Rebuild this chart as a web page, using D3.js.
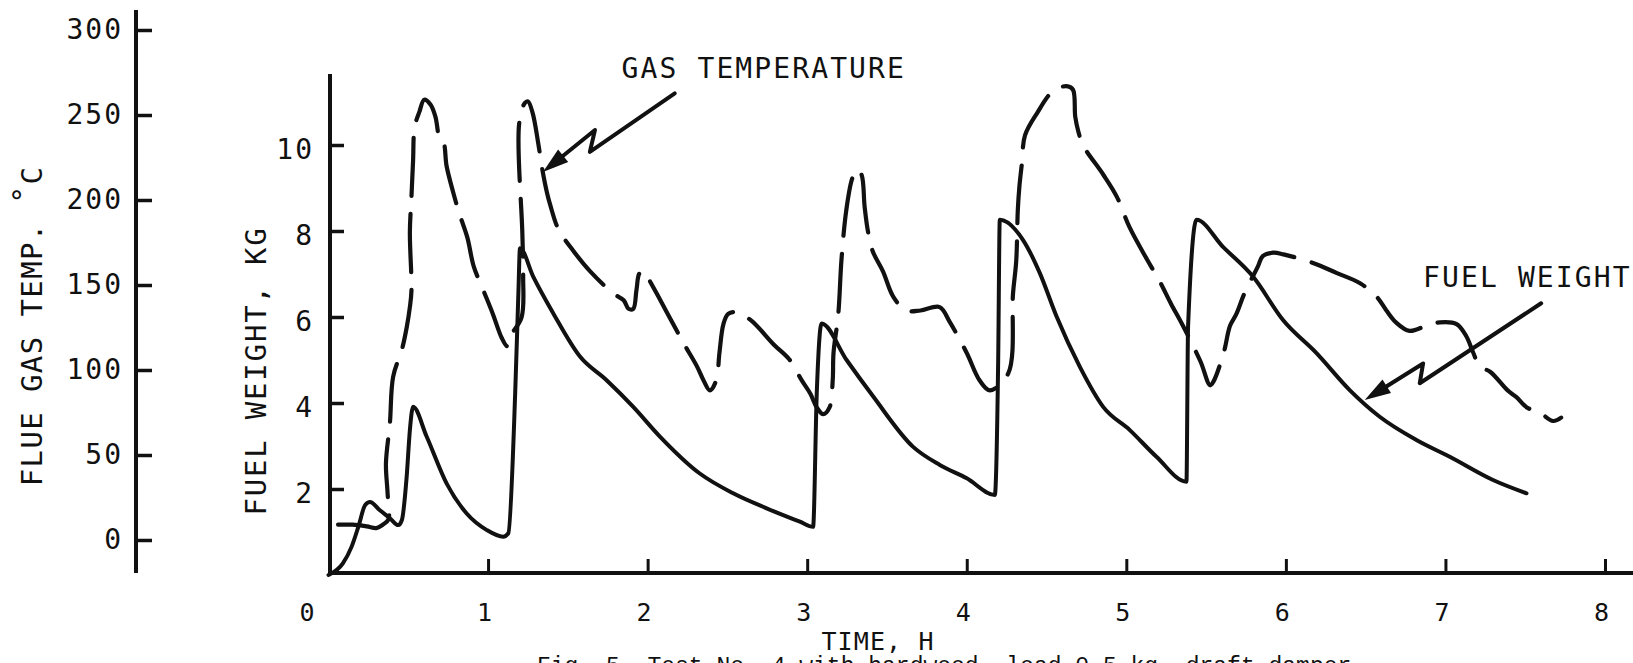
<!DOCTYPE html>
<html lang="en">
<head>
<meta charset="UTF-8">
<title>Fuel weight and flue gas temperature</title>
<script src="https://cdn.jsdelivr.net/npm/d3@7"></script>
<style>
  body { margin: 0; background: #fff; }
  svg { display: block; }
  text { font-family: "DejaVu Sans Mono", monospace; fill: #111; }
  .caption { font-family: "Liberation Mono", monospace; }
</style>
</head>
<body>
<svg width="1633" height="663"></svg>
<script>
// fuel weight on the grate, kg, against time in hours
const fuelTime = [0, 0.09, 0.145, 0.187, 0.23, 0.26, 0.32, 0.385, 0.437, 0.46, 0.49, 0.51, 0.53, 0.615, 0.74, 0.866,
  0.99, 1.095, 1.127, 1.17, 1.19, 1.2, 1.283, 1.408, 1.576, 1.743, 1.91, 2.077, 2.327, 2.536, 2.746, 2.954,
  3.037, 3.06, 3.09, 3.247, 3.414, 3.664, 3.831, 4.0, 4.176, 4.197, 4.207, 4.353, 4.458, 4.563, 4.709, 4.855,
  5.022, 5.189, 5.377, 5.387, 5.44, 5.606, 5.794, 5.982, 6.192, 6.4, 6.588, 6.818, 7.027, 7.298, 7.508];
const fuelWeight = [0, 0.27, 0.66, 1.12, 1.63, 1.7, 1.51, 1.32, 1.16, 1.28, 2.29, 3.37, 3.91, 3.22, 2.13, 1.43,
  1.05, 0.89, 0.97, 4.23, 6.55, 7.6, 6.94, 6.09, 5.08, 4.53, 3.91, 3.22, 2.36, 1.9, 1.55, 1.24,
  1.12, 4.23, 5.85, 5.0, 4.15, 2.98, 2.56, 2.25, 1.86, 5.0, 8.26, 7.79, 7.02, 6.01, 4.84, 3.91,
  3.37, 2.75, 2.17, 5.77, 8.26, 7.63, 6.94, 5.93, 5.16, 4.3, 3.68, 3.14, 2.75, 2.21, 1.9];

// flue gas temperature, deg C, against time in hours
const gasTime = [0.06, 0.15, 0.24, 0.3, 0.34, 0.375, 0.37, 0.36, 0.385, 0.405, 0.46, 0.49, 0.51, 0.52, 0.51, 0.52,
  0.53, 0.54, 0.57, 0.6, 0.64, 0.67, 0.7, 0.72, 0.74, 0.78, 0.82, 0.87, 0.91, 0.97, 1.03, 1.085,
  1.12, 1.14, 1.21, 1.22, 1.215, 1.195, 1.23, 1.25, 1.28, 1.315, 1.34, 1.37, 1.39, 1.44, 1.535, 1.64,
  1.785, 1.85, 1.88, 1.91, 1.93, 1.95, 1.98, 2.01, 2.08, 2.16, 2.23, 2.31, 2.35, 2.39, 2.43, 2.45,
  2.475, 2.505, 2.56, 2.65, 2.79, 2.89, 2.965, 3.02, 3.06, 3.1, 3.14, 3.16, 3.165, 3.195, 3.215, 3.245,
  3.28, 3.31, 3.34, 3.36, 3.38, 3.41, 3.475, 3.54, 3.62, 3.71, 3.83, 3.895, 4.0, 4.08, 4.145, 4.26,
  4.29, 4.31, 4.32, 4.33, 4.345, 4.365, 4.44, 4.54, 4.625, 4.665, 4.68, 4.7, 4.73, 4.855, 4.94, 5.02,
  5.13, 5.21, 5.28, 5.355, 5.465, 5.525, 5.545, 5.61, 5.65, 5.69, 5.74, 5.825, 5.855, 5.92, 5.985, 6.17,
  6.32, 6.465, 6.57, 6.63, 6.69, 6.775, 6.88, 6.965, 7.07, 7.13, 7.175, 7.215, 7.28, 7.39, 7.445, 7.51,
  7.59, 7.675, 7.725];
const gasTemp = [9, 9, 8, 7, 9, 12, 28, 45, 69, 96, 112, 125, 137, 147, 181, 202,
  223, 243, 252, 259, 256, 249, 235, 234, 220, 205, 192, 178, 161, 147, 133, 119,
  114, 120, 131, 155, 180, 245, 257, 258, 251, 233, 218, 204, 197, 183, 170, 158,
  145, 141, 136, 136, 147, 157, 158, 153, 141, 127, 115, 102, 94, 88, 94, 110,
  127, 133, 134, 129, 115, 106, 94, 86, 78, 74, 78, 94, 110, 133, 165, 194,
  212, 218, 215, 196, 182, 170, 158, 143, 135, 135, 137, 128, 110, 94, 88, 98,
  145, 164, 194, 208, 221, 238, 251, 264, 267, 265, 249, 240, 232, 215, 202, 184,
  165, 152, 139, 126, 105, 91, 93, 110, 126, 133, 145, 161, 167, 169, 168, 163,
  157, 151, 143, 135, 128, 123, 126, 128, 127, 120, 110, 102, 99, 88, 84, 78,
  75, 70, 72];

const tempTicks = [0, 50, 100, 150, 200, 250, 300];
const fuelTicks = [2, 4, 6, 8, 10];
const timeTicks = [0, 1, 2, 3, 4, 5, 6, 7, 8];

// hand drawn pointer arrows, in (hours, kg) units
const gasArrow = [[2.17, 11.2], [1.638, 9.84], [1.67, 10.35], [1.344, 9.37]];
const fuelArrow = [[7.6, 6.32], [6.839, 4.46], [6.86, 4.92], [6.494, 4.07]];

const svg = d3.select("svg");
const ink = "#111";

const x = d3.scaleLinear().domain([0, 8]).range([328.5, 1605]);
const yFuel = d3.scaleLinear().domain([0, 10]).range([575, 145]);
const yTemp = d3.scaleLinear().domain([0, 300]).range([540, 30]);

// left axis: flue gas temperature
const tempAxis = svg.append("g")
    .attr("transform", "translate(136,0)")
    .call(d3.axisLeft(yTemp).tickValues(tempTicks).tickSizeInner(-16).tickSizeOuter(0).tickPadding(13));
tempAxis.select(".domain").remove();
tempAxis.selectAll(".tick line").attr("stroke", ink).attr("stroke-width", 3.5);
tempAxis.selectAll("text").attr("font-size", 28).attr("letter-spacing", 2);
svg.append("line")
    .attr("x1", 136).attr("x2", 136).attr("y1", 10).attr("y2", 573)
    .attr("stroke", ink).attr("stroke-width", 4);

// second axis: fuel weight
const fuelAxis = svg.append("g")
    .attr("transform", "translate(330,0)")
    .call(d3.axisLeft(yFuel).tickValues(fuelTicks).tickSizeInner(-14).tickSizeOuter(0).tickPadding(16));
fuelAxis.select(".domain").remove();
fuelAxis.selectAll(".tick line").attr("stroke", ink).attr("stroke-width", 3.5);
fuelAxis.selectAll("text").attr("font-size", 28).attr("letter-spacing", 2).attr("y", 5);
svg.append("line")
    .attr("x1", 330).attr("x2", 330).attr("y1", 74).attr("y2", 575)
    .attr("stroke", ink).attr("stroke-width", 4);

// time axis
const timeAxis = svg.append("g")
    .attr("transform", "translate(0,573)")
    .call(d3.axisBottom(x).tickValues(timeTicks).tickSizeInner(-14).tickSizeOuter(0));
timeAxis.select(".domain").remove();
timeAxis.selectAll(".tick line").attr("stroke", ink).attr("stroke-width", 3);
timeAxis.selectAll(".tick line").filter(d => d === 0).remove();
timeAxis.selectAll("text")
    .attr("font-size", 25)
    .attr("y", 48).attr("dy", 0)
    .attr("dx", d => d === 0 ? -22 : -4);
svg.append("line")
    .attr("x1", 328).attr("x2", 1633).attr("y1", 573).attr("y2", 573)
    .attr("stroke", ink).attr("stroke-width", 4);

// axis titles
const tempTitle = svg.append("text")
    .attr("transform", "translate(42,326) rotate(-90)")
    .attr("text-anchor", "middle")
    .attr("font-size", 29)
    .attr("letter-spacing", 1.4);
tempTitle.append("tspan").text("FLUE GAS TEMP. ");
tempTitle.append("tspan").attr("dy", -9).text("°");
tempTitle.append("tspan").attr("dy", 9).text("C");

svg.append("text")
    .attr("transform", "translate(266,371) rotate(-90)")
    .attr("text-anchor", "middle")
    .attr("font-size", 29)
    .attr("letter-spacing", 1.8)
    .text("FUEL WEIGHT, KG");

svg.append("text")
    .attr("x", 878).attr("y", 650)
    .attr("text-anchor", "middle")
    .attr("font-size", 25)
    .attr("letter-spacing", 1.1)
    .text("TIME, H");

// series
svg.append("path")
    .datum(d3.zip(fuelTime, fuelWeight))
    .attr("d", d3.line()
        .x(d => x(d[0]))
        .y(d => yFuel(d[1]))
        .curve(d3.curveMonotoneX))
    .attr("fill", "none")
    .attr("stroke", ink)
    .attr("stroke-width", 4)
    .attr("stroke-linejoin", "round")
    .attr("stroke-linecap", "round");

svg.append("path")
    .datum(d3.zip(gasTime, gasTemp))
    .attr("d", d3.line()
        .x(d => x(d[0]))
        .y(d => yTemp(d[1]))
        .curve(d3.curveCatmullRom.alpha(0.5)))
    .attr("fill", "none")
    .attr("stroke", ink)
    .attr("stroke-width", 4.2)
    .attr("stroke-dasharray", "58 18")
    .attr("stroke-linejoin", "round")
    .attr("stroke-linecap", "round");

// annotation arrows
function drawArrow(pts) {
    const p = pts.map(d => [x(d[0]), yFuel(d[1])]);
    const tip = p[p.length - 1];
    const prev = p[p.length - 2];
    const dx = tip[0] - prev[0], dy = tip[1] - prev[1];
    const len = Math.hypot(dx, dy);
    const ux = dx / len, uy = dy / len;
    const head = 26, half = 8;
    const base = [tip[0] - ux * head, tip[1] - uy * head];
    svg.append("path")
        .attr("d", d3.line()(p.slice(0, -1).concat([base])))
        .attr("fill", "none")
        .attr("stroke", ink)
        .attr("stroke-width", 4)
        .attr("stroke-linejoin", "round")
        .attr("stroke-linecap", "round");
    svg.append("path")
        .attr("d", d3.line()([
            tip,
            [base[0] - uy * half, base[1] + ux * half],
            [base[0] + uy * half, base[1] - ux * half]
        ]) + "Z")
        .attr("fill", ink);
}
drawArrow(gasArrow);
drawArrow(fuelArrow);

svg.append("text")
    .attr("x", x(1.837)).attr("y", yFuel(11.56))
    .attr("font-size", 28)
    .attr("letter-spacing", 2.1)
    .text("GAS TEMPERATURE");

svg.append("text")
    .attr("x", x(6.86)).attr("y", yFuel(6.7))
    .attr("font-size", 28)
    .attr("letter-spacing", 2.1)
    .text("FUEL WEIGHT");

// figure caption, cut off by the bottom edge as in the scan
svg.append("text")
    .attr("class", "caption")
    .attr("x", 537).attr("y", 673)
    .attr("font-size", 23)
    .text("Fig. 5.  Test No. 4 with hardwood, load 0.5 kg, draft damper");
</script>
</body>
</html>
